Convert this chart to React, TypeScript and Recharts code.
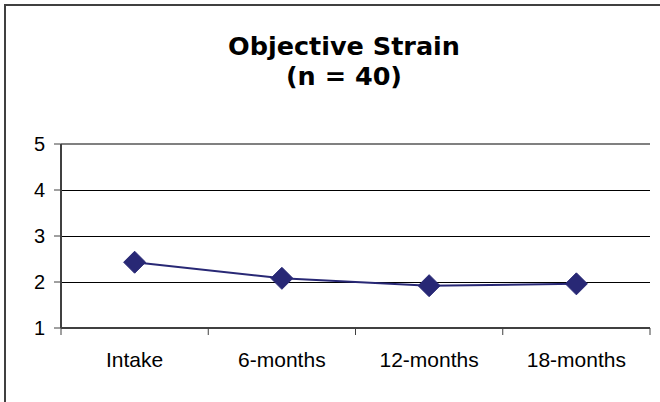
import { LineChart, Line, XAxis, YAxis, CartesianGrid, ReferenceLine } from 'recharts';

const categories = ['Intake', '6-months', '12-months', '18-months'];
const strainValues = [2.43, 2.08, 1.92, 1.96];
const yTicks = [1, 2, 3, 4, 5];

const data = categories.map((name, i) => ({ name, strain: strainValues[i] }));

const DiamondDot = (props: any) => {
  const { cx, cy } = props;
  if (cx == null || cy == null) return null;
  const r = 11;
  return (
    <polygon
      points={`${cx},${cy - r} ${cx + r},${cy} ${cx},${cy + r} ${cx - r},${cy}`}
      fill="#282875"
      stroke="#282875"
    />
  );
};

// label in the middle of the band, tick marks on the band edges
const BandTick = (props: any) => {
  const { x, y, payload, index, visibleTicksCount } = props;
  const half = payload && payload.offset ? payload.offset : 73.5;
  const isLast = index === (visibleTicksCount ?? categories.length) - 1;
  return (
    <g>
      <line x1={x - half} x2={x - half} y1={y - 8} y2={y - 1} stroke="#404040" />
      {isLast && <line x1={x + half} x2={x + half} y1={y - 8} y2={y - 1} stroke="#404040" />}
      <text x={x} y={y + 31} textAnchor="middle" fontSize={21} fill="#000" fontFamily="Liberation Sans, Arial, sans-serif">
        {payload.value}
      </text>
    </g>
  );
};

const ObjectiveStrainChart = () => {
  return (
    <div style={{ position: 'relative', width: 660, height: 402, background: '#fff', overflow: 'hidden' }}>
      <style>{'body{margin:0}'}</style>
      <div
        style={{
          position: 'absolute',
          left: 4,
          top: 4,
          width: 700,
          height: 500,
          borderLeft: '2px solid #404040',
          borderTop: '2px solid #404040',
        }}
      />
      <div
        style={{
          position: 'absolute',
          left: 0,
          top: 31,
          width: 688,
          textAlign: 'center',
          fontFamily: 'DejaVu Sans, Verdana, sans-serif',
          fontWeight: 'bold',
          fontSize: 25.5,
          lineHeight: '30px',
        }}
      >
        Objective Strain
        <br />
        (n = 40)
      </div>
      <div style={{ position: 'absolute', left: 0, top: 0 }}>
        <LineChart width={660} height={402} data={data} margin={{ top: 144, right: 10, bottom: 0, left: 21 }}>
          <CartesianGrid vertical={false} stroke="#000" strokeWidth={1} shapeRendering="crispEdges" />
          <XAxis
            dataKey="name"
            scale="band"
            tick={<BandTick />}
            tickLine={false}
            axisLine={{ stroke: '#404040', strokeWidth: 2 }}
            interval={0}
            height={74}
          />
          <YAxis
            domain={[1, 5]}
            ticks={yTicks}
            width={40}
            axisLine={{ stroke: '#404040', strokeWidth: 2 }}
            tickLine={{ stroke: '#404040' }}
            tickSize={7}
            tickMargin={9}
            tick={{ fontSize: 20, fill: '#000', fontFamily: 'Liberation Sans, Arial, sans-serif' }}
            interval={0}
          />
          <YAxis
            yAxisId="frame"
            orientation="right"
            width={0}
            tick={false}
            tickLine={false}
            axisLine={{ stroke: '#808080', strokeWidth: 2 }}
          />
          <ReferenceLine y={5} stroke="#808080" strokeWidth={2} />
          <Line
            type="linear"
            dataKey="strain"
            stroke="#282875"
            strokeWidth={2}
            dot={<DiamondDot />}
            activeDot={false}
            isAnimationActive={false}
          />
        </LineChart>
      </div>
    </div>
  );
};

export default function App() {
  return <ObjectiveStrainChart />;
}
